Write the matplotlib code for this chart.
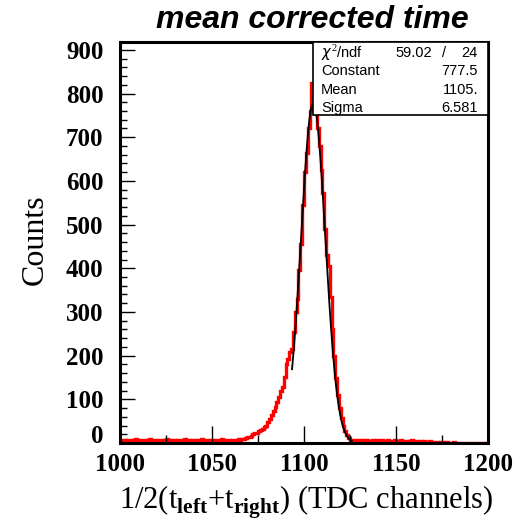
import numpy as np
import matplotlib
matplotlib.use('Agg')
import matplotlib.pyplot as plt
from matplotlib.ticker import MultipleLocator

# histogram: 1 channel bins from 1000 to 1200, counts
bin_lo = 1000
bin_hi = 1200
counts_left = [6, 4, 7, 5, 8, 6, 3, 7, 9, 5, 6, 4, 8, 7, 5, 6, 9, 4, 6, 7,
               5, 8, 6, 4, 7, 9, 6, 5, 8, 6, 4, 7, 6, 8, 5, 9, 6, 7, 4, 6,
               8, 5, 7, 6, 9, 5, 6, 8, 4, 7, 6, 5, 8, 7, 6, 9, 5, 7, 6, 8,
               4, 6, 7, 5, 9]
counts_peak = [8, 10, 9, 12, 14, 13, 17, 20, 23, 22,
               27, 30, 33, 36, 40, 48, 55, 64, 74, 82,
               95, 106, 118, 128, 150, 180, 192, 208, 215, 255,
               300, 330, 395, 455, 545, 620, 665, 720, 760, 825,
               800, 760, 720, 680, 625, 572, 490, 430, 405, 335,
               260, 200, 148, 110, 80, 58, 40, 28, 18, 12]
counts_right = [8, 6, 5, 7, 4, 6, 5, 7, 3, 6, 5, 4, 7, 5, 6, 4, 5, 7, 3, 5,
                6, 4, 5, 3, 6, 4, 5, 6, 3, 4, 5, 3, 4, 6, 3, 4, 5, 2, 4, 3,
                4, 2, 3, 4, 2, 3, 2, 3, 1, 2, 2, 1, 2, 1, 0, 1, 2, 1, 0, 1,
                0, 1, 0, 0, 1, 0, 0, 1, 0, 0, 0, 0, 1, 0, 0]
counts = counts_left + counts_peak + counts_right

# gaussian fit parameters from the stats box
chi2, ndf = 59.02, 24
fit_const, fit_mean, fit_sigma = 777.5, 1105.0, 6.581
fit_lo, fit_hi = 1093.5, 1126.0

x_ticks = [1000, 1050, 1100, 1150, 1200]
y_ticks = [0, 100, 200, 300, 400, 500, 600, 700, 800, 900]

plt.rcParams['mathtext.fontset'] = 'custom'
plt.rcParams['mathtext.rm'] = 'Liberation Serif'
plt.rcParams['mathtext.bf'] = 'Liberation Serif:bold'

W, H = 522, 530
fig = plt.figure(figsize=(W / 100, H / 100), dpi=100)
ax = fig.add_axes([120 / W, 1 - 443 / H, 368 / W, 401 / H])

edges = np.arange(bin_lo, bin_hi + 1)
ax.stairs(counts, edges, color='#ff0000', linewidth=2.4, baseline=None)

xf = np.linspace(fit_lo, fit_hi, 300)
yf = fit_const * np.exp(-0.5 * ((xf - fit_mean) / fit_sigma) ** 2)
ax.plot(xf, yf, color='black', linewidth=1.3)

ax.set_xlim(bin_lo, bin_hi)
ax.set_ylim(0, 918)
ax.set_xticks(x_ticks)
ax.set_yticks(y_ticks)
ax.xaxis.set_minor_locator(MultipleLocator(25))
ax.yaxis.set_minor_locator(MultipleLocator(20))
ax.tick_params(axis='x', which='major', direction='in', length=12, width=1,
               pad=7.5, labelsize=18)
ax.tick_params(axis='x', which='minor', direction='in', length=6, width=1)
ax.tick_params(axis='y', which='major', direction='in', length=11, width=1,
               pad=12, labelsize=18)
ax.tick_params(axis='y', which='minor', direction='in', length=5, width=1)
for lab in ax.get_xticklabels() + ax.get_yticklabels():
    lab.set_family('Liberation Serif')
    lab.set_fontweight('bold')
# the "0" label sits a little high so it clears "1000"
ax.get_yticklabels()[0].set_va('baseline')
for sp in ax.spines.values():
    sp.set_linewidth(2.2)

# stats box
bx = (313 - 120) / 368
by = (443 - 115) / 401
ax.add_patch(plt.Rectangle((bx, by), 1 - bx, 1 - by, transform=ax.transAxes,
                           fill=True, facecolor='white', edgecolor='black',
                           linewidth=1.2, zorder=5))
rows = [(r'$\chi^2$/ndf', None), ('Constant', '777.5'),
        ('Mean', '1105.'), ('Sigma', '6.581')]
fs = 10.5
tx0 = 321 / W
tx1 = 478 / W
for i, (name, val) in enumerate(rows):
    ty = 1 - (53 + i * 18.3) / H
    fig.text(tx0, ty, name, fontsize=fs, family='Liberation Sans',
             va='center', ha='left', zorder=6)
    if val is None:
        fig.text(432 / W, ty, f'{chi2:.2f}', fontsize=fs,
                 family='Liberation Sans', va='center', ha='right')
        fig.text(444 / W, ty, '/', fontsize=fs, family='Liberation Sans',
                 va='center', ha='center')
        fig.text(tx1, ty, f'{ndf}', fontsize=fs, family='Liberation Sans',
                 va='center', ha='right')
    else:
        fig.text(tx1, ty, val, fontsize=fs, family='Liberation Sans',
                 va='center', ha='right')

fig.text(312 / W, 1 - 20 / H, 'mean corrected time', fontsize=23,
         family='Liberation Sans', weight='bold', style='italic',
         ha='center', va='center')
fig.text(35 / W, 1 - 240 / H, 'Counts', fontsize=23, family='Liberation Serif',
         rotation=90, ha='center', va='center')
fig.text(306 / W, 1 - 502 / H,
         r'1/2(t$_{\mathbf{left}}$+t$_{\mathbf{right}}$) (TDC channels)',
         fontsize=22, family='Liberation Serif', ha='center', va='center')

fig.savefig('out.png', dpi=100)
